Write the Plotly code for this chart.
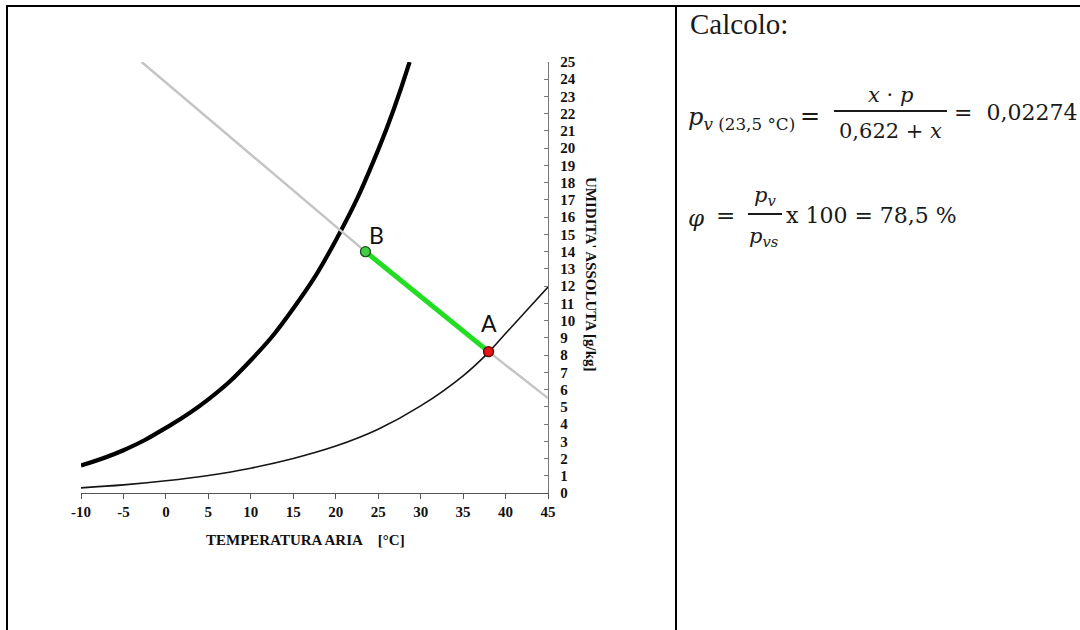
import plotly.graph_objects as go

# ---- data -------------------------------------------------------------
# saturation curve (thick)
sat_t = [-10, -5, 0, 5, 10, 15, 20, 25, 28.7]
sat_x = [1.6, 2.48, 3.78, 5.43, 7.7, 10.7, 14.65, 19.9, 25.0]

# low relative-humidity curve (thin)
low_t = [-10, -5, 0, 5, 10, 15, 20, 25, 30, 35, 38, 40, 45]
low_x = [0.3, 0.47, 0.71, 1.02, 1.44, 2.0, 2.72, 3.7, 5.05, 6.8, 8.16, 9.25, 11.95]

# adiabatic line (grey), drawn through B and A
adi_t = [-2.85, 23.5, 38.0, 45]
adi_x = [25.0, 14.0, 8.2, 5.5]

# process A -> B
pt_names = ["A", "B"]
pt_t = [38.0, 23.5]
pt_x = [8.2, 14.0]

x_ticks = [-10, -5, 0, 5, 10, 15, 20, 25, 30, 35, 40, 45]
x_ticktext = ["-10", "-5", "0", "5", "10", "15", "20", "25", "30", "35", "40", "45"]
y_ticks = list(range(0, 26))

# ---- layout helpers (pixel -> paper coordinates) ----------------------
W, H = 1080, 630
PL, PR, PT, PB = 81, 548, 62, 493


def px(x, y):
    return (x - PL) / (PR - PL), (PB - y) / (PB - PT)


SERIF = "Liberation Serif"
MATH = "DejaVu Serif"

fig = go.Figure()

fig.add_trace(go.Scatter(x=low_t, y=low_x, mode="lines",
                         line=dict(color="#151515", width=1.6, shape="spline", smoothing=1.0),
                         hoverinfo="skip"))
fig.add_trace(go.Scatter(x=sat_t, y=sat_x, mode="lines",
                         line=dict(color="#000000", width=4.2, shape="spline", smoothing=1.3),
                         hoverinfo="skip"))
fig.add_trace(go.Scatter(x=adi_t, y=adi_x, mode="lines",
                         line=dict(color="#c4c4c4", width=2.4),
                         hoverinfo="skip"))
fig.add_trace(go.Scatter(x=pt_t, y=pt_x, mode="lines",
                         line=dict(color="#22dd22", width=5),
                         hoverinfo="skip"))
fig.add_trace(go.Scatter(x=pt_t, y=pt_x, mode="markers", cliponaxis=False,
                         marker=dict(size=10, color=["#e31414", "#45cc45"],
                                     line=dict(color=["#5a0000", "#1d4d1d"], width=1.3)),
                         hoverinfo="skip"))

annotations = []
# point labels
label_shift = {"A": (0, 29), "B": (11, 17)}
for n, t, v in zip(pt_names, pt_t, pt_x):
    dx, dy = label_shift[n]
    annotations.append(dict(x=t, y=v, xref="x", yref="y", text=n, showarrow=False,
                            xshift=dx, yshift=dy,
                            font=dict(family="Lato", size=23, color="#111")))

# axis titles
ax, ay = px(305, 540)
annotations.append(dict(x=ax, y=ay, xref="paper", yref="paper", showarrow=False,
                        xanchor="center", yanchor="middle",
                        text="TEMPERATURA ARIA&nbsp;&nbsp;&nbsp;&nbsp;[°C]",
                        font=dict(family=SERIF, size=15, color="#111", weight="bold")))
ax, ay = px(591, 274)
annotations.append(dict(x=ax, y=ay, xref="paper", yref="paper", showarrow=False,
                        xanchor="center", yanchor="middle",
                        text="UMIDITA' ASSOLUTA [g/kg]", textangle=90,
                        font=dict(family=SERIF, size=15, color="#111", weight="bold")))


def txt(x, y, text, size=22, anchor="left", family=MATH):
    ax, ay = px(x, y)
    annotations.append(dict(x=ax, y=ay, xref="paper", yref="paper", showarrow=False,
                            text=text, xanchor=anchor, yanchor="middle",
                            font=dict(family=family, size=size, color="#1a1a1a")))


# right-hand calculation panel
txt(688, 24, "Calcolo:", size=29, family=SERIF)
txt(686, 119, "<i>p</i><sub><i>v</i> (23,5 °C)</sub>", size=24)
txt(810, 116, "=", size=24, anchor="center")
txt(890, 95, "<i>x</i> · <i>p</i>", size=21, anchor="center")
txt(890, 131, "0,622 + <i>x</i>", size=21, anchor="center")
txt(952, 112, "=&nbsp;&nbsp;0,02274", size=22)
txt(686, 218, "<i>φ</i>", size=23)
txt(725, 215, "=", size=23, anchor="center")
txt(765, 196, "<i>p<sub>v</sub></i>", size=21, anchor="center")
txt(764, 237, "<i>p<sub>vs</sub></i>", size=21, anchor="center")
txt(784, 215, "x 100 = 78,5 %", size=22)

shapes = []


def seg(x0, y0, x1, y1, w=2, color="#000"):
    a0, b0 = px(x0, y0)
    a1, b1 = px(x1, y1)
    shapes.append(dict(type="line", xref="paper", yref="paper", x0=a0, y0=b0,
                       x1=a1, y1=b1, line=dict(color=color, width=w)))


# table frame
seg(6, 6, 1080, 6, w=2)
seg(7, 6, 7, 630, w=2)
seg(676, 6, 676, 630, w=2)
# fraction bars
seg(834, 111, 947, 111, w=2.2, color="#1a1a1a")
seg(748, 214, 782, 214, w=2.2, color="#1a1a1a")

fig.update_layout(
    width=W, height=H,
    margin=dict(l=PL, r=W - PR, t=PT, b=H - PB, pad=0),
    paper_bgcolor="white", plot_bgcolor="white",
    showlegend=False,
    annotations=annotations,
    shapes=shapes,
    xaxis=dict(range=[-10, 45], tickvals=x_ticks, ticktext=x_ticktext,
               showgrid=False, zeroline=False, showline=True,
               linecolor="#555", linewidth=1.3, ticks="outside", ticklen=5,
               tickcolor="#555", ticklabelstandoff=0,
               tickfont=dict(family=SERIF, size=15, color="#111", weight="bold")),
    yaxis=dict(range=[0, 25], tickvals=y_ticks, side="right",
               showgrid=False, zeroline=False, showline=True,
               linecolor="#777", linewidth=1.3, ticks="inside", ticklen=4,
               tickcolor="#777", ticklabelstandoff=8,
               tickfont=dict(family=SERIF, size=15, color="#111", weight="bold")),
)

fig.write_html("out.html")
